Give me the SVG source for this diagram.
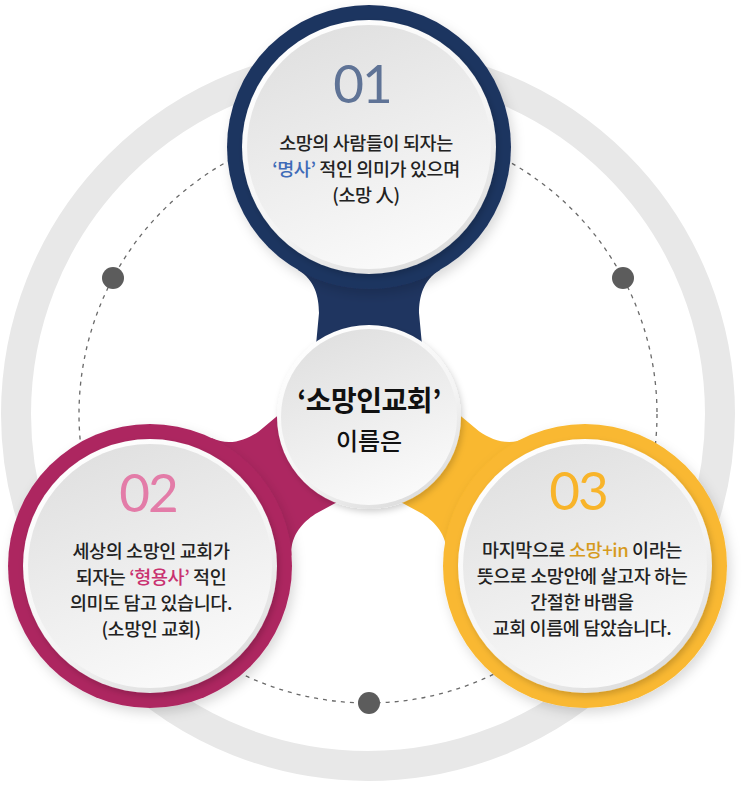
<svg xmlns="http://www.w3.org/2000/svg" width="756" height="785" viewBox="0 0 756 785">
  <defs>
    <linearGradient id="disk" x1="0.3" y1="0" x2="0.7" y2="1">
      <stop offset="0" stop-color="#e0e0e0"/>
      <stop offset="1" stop-color="#fbfbfb"/>
    </linearGradient>
    <linearGradient id="rimg" x1="0.2" y1="0" x2="0.8" y2="1">
      <stop offset="0" stop-color="#ffffff"/>
      <stop offset="0.6" stop-color="#f4f4f4"/>
      <stop offset="1" stop-color="#d9d9d9"/>
    </linearGradient>
    <filter id="sh" x="-20%" y="-20%" width="140%" height="140%">
      <feDropShadow dx="2" dy="3" stdDeviation="3" flood-color="#000" flood-opacity="0.18"/>
    </filter>
    <filter id="sh2" x="-20%" y="-20%" width="140%" height="140%">
      <feDropShadow dx="3" dy="5" stdDeviation="6" flood-color="#000" flood-opacity="0.15"/>
    </filter>
    <style>
      .ring { fill: none; stroke: #e8e8e8; stroke-width: 30; }
      .dash { fill: none; stroke: #6a6a6a; stroke-width: 1.3; stroke-dasharray: 4 5; }
      .dot { fill: #5c5c5c; }
      .rim { fill: url(#rimg); filter: url(#sh); }
      .face { fill: url(#disk); }
      .num { font-family: Lato, "Open Sans", "Noto Sans", sans-serif; font-weight: 400; font-size: 53px; letter-spacing: -2px; text-anchor: middle; }
      .body { font-family: "Noto Sans CJK KR", "Noto Sans", sans-serif; font-size: 18.5px; font-weight: 500; letter-spacing: -0.4px; fill: #222; text-anchor: middle; }
      .title { font-family: "Noto Sans CJK KR", "Noto Sans", sans-serif; font-size: 28px; font-weight: 600; letter-spacing: -0.5px; fill: #111; text-anchor: middle; }
      .sub { font-family: "Noto Sans CJK KR", "Noto Sans", sans-serif; font-size: 24px; font-weight: 500; fill: #111; text-anchor: middle; }
      .navy { fill: #1f3560; }
      .mag { fill: #ad2761; }
      .yel { fill: #f9b830; }
    </style>
  </defs>

  <rect width="756" height="785" fill="#ffffff"/>

  <g id="background">
    <circle class="ring" cx="368" cy="414" r="352"/>
    <circle class="dash" cx="368" cy="414" r="289"/>
    <circle class="dot" cx="113" cy="278" r="11"/>
    <circle class="dot" cx="623" cy="278" r="11"/>
    <circle class="dot" cx="369" cy="703" r="11"/>
  </g>

  <g id="connectors">
    <path class="navy" transform="translate(369,417)" d="M -71,-147 C -54,-137 -50,-120 -50,-104 L -56,-40 L 0,0 L 56,-40 L 50,-104 C 50,-120 54,-137 71,-147 L 0,-270 Z"/>
    <path class="mag" transform="translate(369,417) rotate(-124.2)" d="M -71,-142 C -54,-132 -50,-115 -50,-99 L -56,-40 L 0,0 L 56,-40 L 50,-99 C 50,-115 54,-132 71,-142 L 0,-265 Z"/>
    <path class="yel" transform="translate(369,417) rotate(124.2)" d="M -71,-142 C -54,-132 -50,-115 -50,-99 L -56,-40 L 0,0 L 56,-40 L 50,-99 C 50,-115 54,-132 71,-142 L 0,-265 Z"/>
  </g>

  <g id="node-01">
    <circle class="navy" cx="369" cy="147" r="142" filter="url(#sh2)"/>
    <circle class="rim" cx="369" cy="147" r="127"/>
    <circle class="face" cx="369" cy="147" r="122"/>
    <text class="num" x="362" y="103" fill="#5f7396">01</text>
    <text class="body" x="366" y="150">소망의 사람들이 되자는</text>
    <text class="body" x="366" y="176"><tspan fill="#3f6bb8">‘명사’</tspan> 적인 의미가 있으며</text>
    <text class="body" x="366" y="202">(소망 人)</text>
  </g>

  <g id="node-02">
    <circle class="mag" cx="150" cy="566" r="142" filter="url(#sh2)"/>
    <circle class="rim" cx="150" cy="566" r="127"/>
    <circle class="face" cx="150" cy="566" r="122"/>
    <text class="num" x="148" y="512" fill="#e37ca8">02</text>
    <text class="body" x="151" y="558">세상의 소망인 교회가</text>
    <text class="body" x="151" y="584">되자는 <tspan fill="#c93270">‘형용사’</tspan> 적인</text>
    <text class="body" x="151" y="610">의미도 담고 있습니다.</text>
    <text class="body" x="151" y="636">(소망인 교회)</text>
  </g>

  <g id="node-03">
    <circle class="yel" cx="585" cy="566" r="142" filter="url(#sh2)"/>
    <circle class="rim" cx="585" cy="566" r="127"/>
    <circle class="face" cx="585" cy="566" r="122"/>
    <text class="num" x="578" y="510" fill="#f8b42a">03</text>
    <text class="body" x="582" y="557">마지막으로 <tspan fill="#d69a1e">소망+in</tspan> 이라는</text>
    <text class="body" x="582" y="583">뜻으로 소망안에 살고자 하는</text>
    <text class="body" x="582" y="609">간절한 바램을</text>
    <text class="body" x="582" y="635">교회 이름에 담았습니다.</text>
  </g>

  <g id="node-center">
    <circle class="rim" cx="369" cy="417" r="92"/>
    <circle class="face" cx="369" cy="417" r="88"/>
    <text class="title" x="369" y="411">‘소망인교회’</text>
    <text class="sub" x="369" y="450">이름은</text>
  </g>
</svg>
